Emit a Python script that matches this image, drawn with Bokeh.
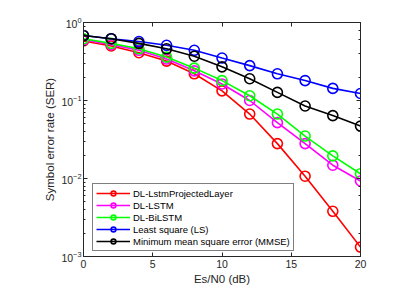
from bokeh.plotting import figure
from bokeh.models import LinearAxis, LogAxis, Range1d, Legend, LegendItem, FixedTicker, LogTicker
from bokeh.embed import file_html
from bokeh.resources import INLINE

snr = [0, 2, 4, 6, 8, 10, 12, 14, 16, 18, 20]
ser_proj = [0.58, 0.50, 0.41, 0.32, 0.22, 0.133, 0.067, 0.028, 0.0107, 0.0038, 0.00132]
ser_lstm = [0.60, 0.52, 0.44, 0.34, 0.24, 0.163, 0.10, 0.052, 0.028, 0.0148, 0.0093]
ser_bilstm = [0.62, 0.54, 0.46, 0.36, 0.26, 0.18, 0.115, 0.067, 0.035, 0.0195, 0.0115]
ser_ls = [0.68, 0.62, 0.57, 0.51, 0.44, 0.35, 0.28, 0.22, 0.18, 0.143, 0.123]
ser_mmse = [0.68, 0.62, 0.54, 0.46, 0.37, 0.27, 0.19, 0.127, 0.085, 0.064, 0.047]
names = ["DL-LstmProjectedLayer", "DL-LSTM", "DL-BiLSTM", "Least square (LS)",
         "Minimum mean square error (MMSE)"]
colors = ["#ff0000", "#ff00ff", "#00ff00", "#0000ff", "#000000"]
x_ticks = [0, 5, 10, 15, 20]

FONT = "Liberation Sans"
AX = "#262626"

p = figure(width=406, height=287, output_backend="svg", toolbar_location=None,
           y_axis_type="log", x_range=Range1d(0, 20), y_range=Range1d(1e-3, 1),
           min_border_left=83, min_border_right=46, min_border_top=22, min_border_bottom=25)
p.xgrid.visible = False
p.ygrid.visible = False
p.outline_line_color = AX
p.outline_line_width = 1
p.background_fill_color = "white"
p.border_fill_color = "white"

series = [ser_proj, ser_lstm, ser_bilstm, ser_ls, ser_mmse]
items = []
for name, col, ys in zip(names, colors, series):
    r1 = p.line(snr, ys, line_color=col, line_width=1.6)
    r2 = p.scatter(snr, ys, marker="circle", size=10, fill_color=None, line_color=col, line_width=1.6)
    items.append(LegendItem(label=name, renderers=[r1, r2]))

def style(ax, labels=True):
    ax.axis_line_color = AX
    ax.major_tick_line_color = AX
    ax.minor_tick_line_color = AX
    ax.major_tick_in = 4
    ax.major_tick_out = 0
    ax.minor_tick_in = 2
    ax.minor_tick_out = 0
    ax.major_label_text_font = FONT
    ax.major_label_text_font_size = "10.5px"
    ax.major_label_text_color = AX
    ax.axis_label_text_font = FONT
    ax.axis_label_text_font_size = "11.5px"
    ax.axis_label_text_font_style = "normal"
    ax.axis_label_text_color = AX
    if not labels:
        ax.major_label_text_font_size = "0px"
        ax.major_label_text_alpha = 0

p.xaxis.ticker = FixedTicker(ticks=x_ticks)
p.xaxis.axis_label = "Es/N0 (dB)"
p.xaxis.axis_label_standoff = 2
p.xaxis.major_label_standoff = 3
p.yaxis.axis_label = "Symbol error rate (SER)"
p.yaxis.axis_label_standoff = 2
p.yaxis.major_label_standoff = 2
style(p.xaxis[0])
style(p.yaxis[0])
p.xaxis[0].minor_tick_in = 0

top = LinearAxis(ticker=FixedTicker(ticks=x_ticks))
style(top, labels=False)
top.minor_tick_in = 0
right = LogAxis(ticker=LogTicker())
style(right, labels=False)
p.add_layout(top, "above")
p.add_layout(right, "right")

legend = Legend(items=items, location=(9, 5))
legend.label_text_font = FONT
legend.label_text_font_size = "9.5px"
legend.label_text_color = "#000000"
legend.label_height = 12
legend.glyph_height = 12
legend.glyph_width = 34
legend.spacing = 0
legend.padding = 3
legend.margin = 0
legend.label_standoff = 3
legend.border_line_color = "#000000"
legend.border_line_width = 1
legend.background_fill_alpha = 1
p.add_layout(legend, "center")

open("out.html", "w").write(file_html(p, INLINE))
